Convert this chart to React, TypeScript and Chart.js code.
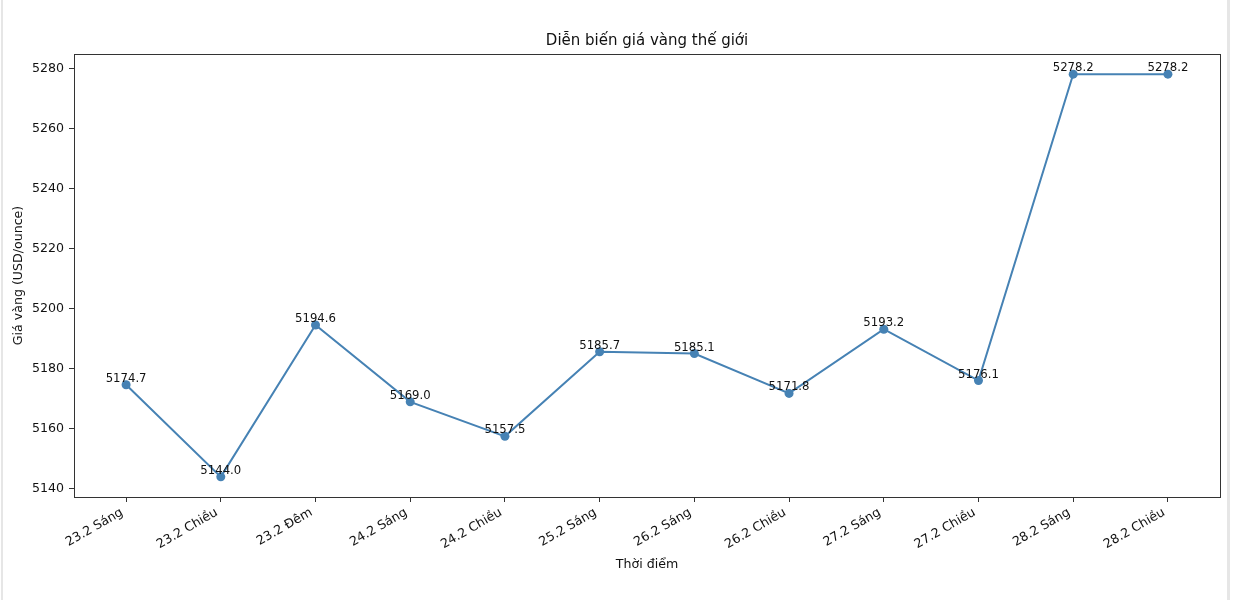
import React, { useEffect, useRef } from "react";
import { Chart, registerables } from "chart.js";

Chart.register(...registerables);

const categories = [
  "23.2 Sáng", "23.2 Chiều", "23.2 Đêm", "24.2 Sáng", "24.2 Chiều", "25.2 Sáng",
  "26.2 Sáng", "26.2 Chiều", "27.2 Sáng", "27.2 Chiều", "28.2 Sáng", "28.2 Chiều",
];
const prices = [5174.7, 5144.0, 5194.6, 5169.0, 5157.5, 5185.7, 5185.1, 5171.8, 5193.2, 5176.1, 5278.2, 5278.2];
const yTicks = [5140, 5160, 5180, 5200, 5220, 5240, 5260, 5280];

const FONT = "'DejaVu Sans', sans-serif";
const LINE = "#4682b4";

const frameAndLabels = {
  id: "frameAndLabels",
  afterDatasetsDraw(chart: any) {
    const ctx = chart.ctx;
    const { left, top, right, bottom } = chart.chartArea;
    ctx.save();
    ctx.strokeStyle = "#333";
    ctx.lineWidth = 1;
    ctx.strokeRect(Math.round(left) + 0.5, Math.round(top) + 0.5, Math.round(right - left), Math.round(bottom - top));
    const meta = chart.getDatasetMeta(0);
    ctx.fillStyle = "#111";
    ctx.font = `11.7px ${FONT}`;
    ctx.textAlign = "center";
    ctx.textBaseline = "alphabetic";
    meta.data.forEach((pt: any, i: number) => {
      ctx.fillText(prices[i].toFixed(1), pt.x, pt.y - 3);
    });
    ctx.restore();
  },
};

export default function App() {
  const ref = useRef<HTMLCanvasElement | null>(null);
  useEffect(() => {
    if (!ref.current) return;
    const chart = new Chart(ref.current, {
      type: "line",
      data: {
        datasets: [
          {
            data: prices.map((v, i) => ({ x: i, y: v })),
            borderColor: LINE,
            backgroundColor: LINE,
            borderWidth: 2,
            pointRadius: 4.5,
            pointHoverRadius: 4.5,
            pointBackgroundColor: LINE,
            pointBorderColor: LINE,
            pointBorderWidth: 0,
            tension: 0,
          },
        ],
      },
      options: {
        animation: false,
        responsive: false,
        devicePixelRatio: 1,
        layout: { padding: { left: 0, right: 14, top: 0, bottom: 0 } },
        plugins: {
          legend: { display: false },
          tooltip: { enabled: false },
          title: {
            display: true,
            text: "Diễn biến giá vàng thế giới",
            fullSize: false,
            color: "#111",
            font: { family: FONT, size: 15, weight: "normal" },
            padding: { top: 32, bottom: 4 },
          },
        },
        scales: {
          x: {
            type: "linear",
            min: -0.55,
            max: 11.55,
            afterBuildTicks: (scale: any) => {
              scale.ticks = categories.map((_, i) => ({ value: i }));
            },
            afterFit: (scale: any) => {
              scale.height = 103;
            },
            ticks: {
              autoSkip: false,
              minRotation: 30,
              maxRotation: 30,
              padding: 3,
              labelOffset: -4,
              color: "#111",
              font: { family: FONT, size: 12.6 },
              callback: (v: any) => categories[Math.round(Number(v))] ?? "",
            },
            grid: { drawOnChartArea: false, drawTicks: true, tickLength: 5, tickColor: "#333" },
            border: { display: true, color: "#333" },
            title: {
              display: true,
              text: "Thời điểm",
              color: "#111",
              font: { family: FONT, size: 12.6 },
              padding: { top: 0, bottom: 27.4 },
            },
          },
          y: {
            type: "linear",
            min: 5137.29,
            max: 5284.91,
            afterBuildTicks: (scale: any) => {
              scale.ticks = yTicks.map((v) => ({ value: v }));
            },
            afterFit: (scale: any) => {
              scale.width = 74;
            },
            ticks: {
              padding: 5,
              color: "#111",
              font: { family: FONT, size: 12.6 },
              callback: (v: any) => String(v),
            },
            grid: { drawOnChartArea: false, drawTicks: true, tickLength: 5, tickColor: "#333" },
            border: { display: true, color: "#333" },
            title: {
              display: true,
              text: "Giá vàng (USD/ounce)",
              color: "#111",
              font: { family: FONT, size: 12.6 },
              padding: { top: 11.4, bottom: 0 },
            },
          },
        },
      },
      plugins: [frameAndLabels],
    } as any);
    return () => chart.destroy();
  }, []);

  return (
    <div style={{ position: "fixed", left: 0, top: 0, width: 1234, height: 600, background: "#fff" }}>
      <canvas ref={ref} width={1234} height={600} style={{ position: "absolute", left: 0, top: 0 }} />
      <div style={{ position: "absolute", left: 1, top: 0, width: 2, height: 600, background: "#e6e6e6" }} />
      <div style={{ position: "absolute", left: 1227, top: 0, width: 3, height: 600, background: "#e6e6e6" }} />
    </div>
  );
}
